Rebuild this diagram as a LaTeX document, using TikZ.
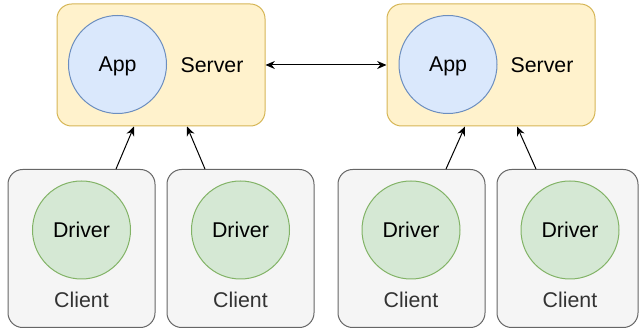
\documentclass[tikz,border=0pt]{standalone}
\usepackage{fontspec}
\setmainfont{Liberation Sans}
\usetikzlibrary{calc,arrows.meta}
\definecolor{srvfill}{HTML}{FFF2CC}
\definecolor{srvline}{HTML}{D6B656}
\definecolor{appfill}{HTML}{DAE8FC}
\definecolor{appline}{HTML}{6C8EBF}
\definecolor{drvfill}{HTML}{D5E8D4}
\definecolor{drvline}{HTML}{82B366}
\definecolor{clifill}{HTML}{F5F5F5}
\definecolor{cliline}{HTML}{666666}
\definecolor{clitext}{HTML}{333333}
\begin{document}
\begin{tikzpicture}[x=0.75pt,y=-0.75pt,
  font=\fontsize{16}{19}\selectfont,
  serverbox/.style={draw=srvline,fill=srvfill,rounded corners=11pt,minimum width=156pt,minimum height=91.5pt,line width=0.75pt,inner sep=0pt},
  clientbox/.style={draw=cliline,fill=clifill,rounded corners=11pt,minimum width=110.25pt,minimum height=118.5pt,line width=0.75pt,inner sep=0pt},
  appcirc/.style={circle,draw=appline,fill=appfill,minimum size=73.5pt,inner sep=0pt,line width=0.75pt,text depth=0pt},
  drvcirc/.style={circle,draw=drvline,fill=drvfill,minimum size=73.5pt,inner sep=0pt,line width=0.75pt},
  conn/.style={line width=0.75pt,-{Stealth[length=7pt,width=6pt]}},
  bconn/.style={line width=0.75pt,{Stealth[length=7pt,width=6pt]}-{Stealth[length=7pt,width=6pt]}}
]
\useasboundingbox (0,0) rectangle (640,331);
% servers
\node[serverbox] (s1) at (161,65) {};
\node[appcirc] (a1) at (117.5,64.5) {App};
\node (t1) at (212,65) {Server};
\node[serverbox] (s2) at (491,65) {};
\node[appcirc] (a2) at (448,64.5) {App};
\node (t2) at (542,65) {Server};
% clients
\node[clientbox] (c1) at (81.5,248.5) {};
\node[drvcirc] (d1) at (81.5,230) {Driver};
\node[text=clitext] (l1) at (81.5,300) {Client};
\node[clientbox] (c2) at (240.5,248.5) {};
\node[drvcirc] (d2) at (240.5,230) {Driver};
\node[text=clitext] (l2) at (240.5,300) {Client};
\node[clientbox] (c3) at (411.5,248.5) {};
\node[drvcirc] (d3) at (411,230) {Driver};
\node[text=clitext] (l3) at (411,300) {Client};
\node[clientbox,minimum width=105.75pt] (c4) at (567.5,248.5) {};
\node[drvcirc] (d4) at (570,230) {Driver};
\node[text=clitext] (l4) at (570,300) {Client};
% connectors
\draw[bconn] (s1) -- (s2);
\draw[conn] ($(c1.north)+(34.5,0)$) -- ($(s1.south)+(-27,0)$);
\draw[conn] ($(c2.north)+(-35.5,0)$) -- ($(s1.south)+(26,0)$);
\draw[conn] ($(c3.north)+(34.5,0)$) -- ($(s2.south)+(-26,0)$);
\draw[conn] ($(c4.north)+(-31.5,0)$) -- ($(s2.south)+(26,0)$);
\end{tikzpicture}
\end{document}
